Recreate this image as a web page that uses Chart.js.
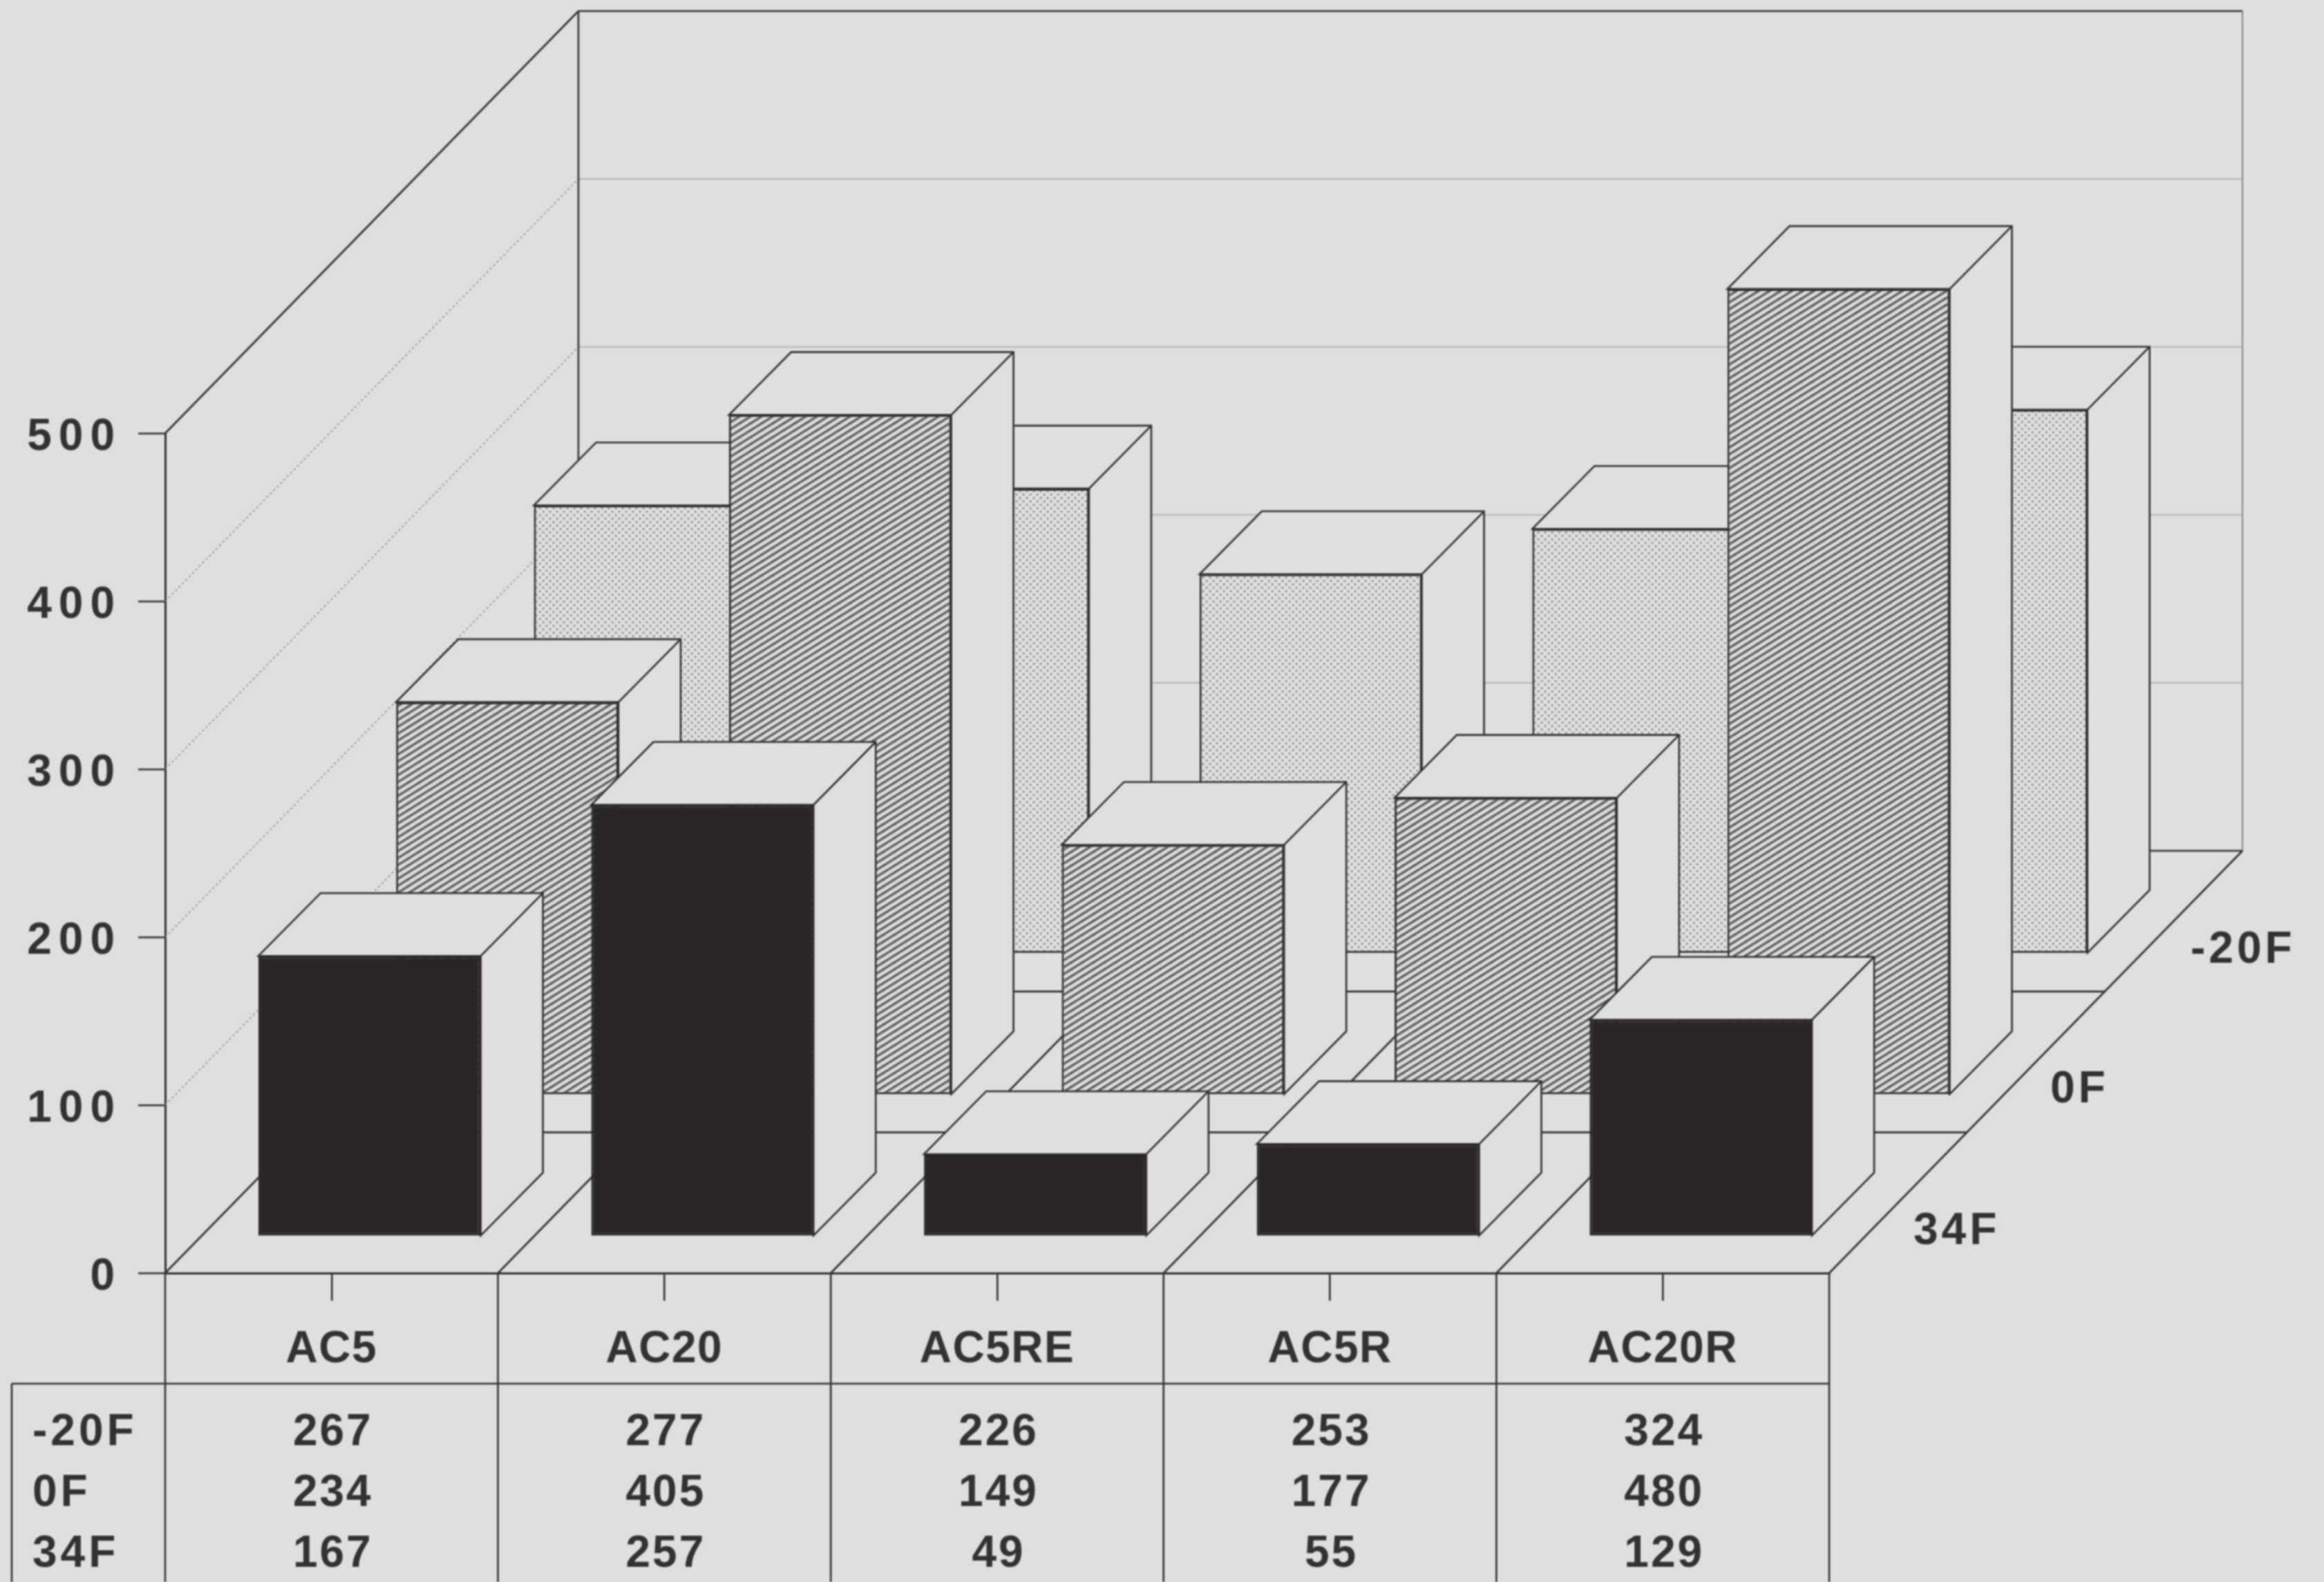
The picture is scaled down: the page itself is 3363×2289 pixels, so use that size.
<!DOCTYPE html>
<html>
<head>
<meta charset="utf-8">
<style>
html,body{margin:0;padding:0;background:#dfdfdf;}
canvas{display:block;filter:blur(0.9px);}
</style>
<script src="https://cdn.jsdelivr.net/npm/chart.js@4"></script>
</head>
<body>
<canvas id="c" width="3363" height="2289" style="width:3363px;height:2289px"></canvas>
<script>
const categories = ['AC5','AC20','AC5RE','AC5R','AC20R'];
const seriesNames = ['-20F','0F','34F'];
const valuesMinus20F = [267,277,226,253,324];
const values0F = [234,405,149,177,480];
const values34F = [167,257,49,55,129];
const yTicks = [0,100,200,300,400,500];

const BG='#dfdfdf', INK='#333132', GRID='#a6a6a6';
const FONT={family:'"Liberation Sans", Arimo, sans-serif',size:64,weight:'bold'};
const FONT_CSS='bold 64px "Liberation Sans", Arimo, sans-serif';
const TRACK_Y='10px', TRACK_X='1.5px', TRACK_DIGITS='3px', TRACK_ROWNAME='5px';
const DEPTH_X=598, DEPTH_Y=611;
const ROW_X=DEPTH_X/3, ROW_Y=DEPTH_Y/3;
const BAR_IN_X=55, BAR_IN_Y=53, BAR_ROW_Y=204.5, BAR_DX=90, BAR_DY=91;

function tile(w,h,draw){const t=document.createElement('canvas');t.width=w;t.height=h;const c=t.getContext('2d');draw(c,w,h);return t;}
const ctxMain=document.getElementById('c').getContext('2d');
const hatch=ctxMain.createPattern(tile(16,10,(c,w,h)=>{
  c.fillStyle='#dcdcdc';c.fillRect(0,0,w,h);
  c.strokeStyle='#505050';c.lineWidth=3;
  for(const [ox,oy] of [[0,0],[-w,0],[w,0],[0,-h],[0,h]]){
    c.beginPath();c.moveTo(ox-w,oy+h+h);c.lineTo(ox+w+w,oy-h);c.stroke();
  }
}),'repeat');
const stipple=ctxMain.createPattern(tile(10,10,(c,w,h)=>{
  c.fillStyle='#dfdfdf';c.fillRect(0,0,w,h);
  c.fillStyle='#949494';
  for(const [x,y] of [[2.5,2.5],[7.5,7.5]]){c.beginPath();c.arc(x,y,1.7,0,Math.PI*2);c.fill();}
}),'repeat');

// row index in depth for each dataset: 0 = front
const rowOf={'-20F':2,'0F':1,'34F':0};

function line(ctx,x1,y1,x2,y2){ctx.beginPath();ctx.moveTo(x1,y1);ctx.lineTo(x2,y2);ctx.stroke();}
function trackLabels(scale,ctx,track){
  if(scale._tracked) return;
  scale._tracked=true;
  const orig=scale.drawLabels;
  scale.drawLabels=function(a){ctx.save();ctx.letterSpacing=track;orig.call(this,a);ctx.restore();};
}

const scene={
  id:'scene',
  beforeDraw(chart){
    trackLabels(chart.scales.x,chart.ctx,TRACK_X);
    trackLabels(chart.scales.y,chart.ctx,TRACK_Y);
  },
  beforeDatasetsDraw(chart){
    const ctx=chart.ctx,x=chart.scales.x,y=chart.scales.y;
    const L=x.left,R=x.right,y0=y.getPixelForValue(0),top=y.getPixelForValue(yTicks[yTicks.length-1]);
    ctx.save();
    // grid on walls
    ctx.lineWidth=1.6;
    for(const v of yTicks.slice(1,-1)){
      const p=y.getPixelForValue(v);
      ctx.strokeStyle=GRID;ctx.setLineDash([]);
      line(ctx,L+DEPTH_X,p-DEPTH_Y,R+DEPTH_X,p-DEPTH_Y);
      ctx.strokeStyle='#8a8a8a';ctx.setLineDash([3,4]);
      line(ctx,L,p,L+DEPTH_X,p-DEPTH_Y);
    }
    ctx.setLineDash([]);
    // frame
    ctx.strokeStyle=INK;ctx.lineWidth=2.6;
    line(ctx,L,top,L+DEPTH_X,top-DEPTH_Y);
    line(ctx,L+DEPTH_X,top-DEPTH_Y,R+DEPTH_X,top-DEPTH_Y);
    line(ctx,L+DEPTH_X,top-DEPTH_Y,L+DEPTH_X,y0-DEPTH_Y);
    ctx.strokeStyle='#7d7d7d';ctx.lineWidth=1.8;
    line(ctx,R+DEPTH_X,top-DEPTH_Y,R+DEPTH_X,y0-DEPTH_Y);
    // floor
    ctx.strokeStyle=INK;ctx.lineWidth=2.6;
    const band=(R-L)/categories.length;
    for(let i=0;i<=categories.length;i++){
      const bx=L+i*band;
      line(ctx,bx,y0,bx+DEPTH_X,y0-DEPTH_Y);
    }
    for(let r=1;r<=3;r++){
      line(ctx,L+r*ROW_X,y0-r*ROW_Y,R+r*ROW_X,y0-r*ROW_Y);
    }
    // data table rules
    const h=chart.height, tableTop=2002, tableLeft=17;
    for(let i=0;i<=categories.length;i++){
      const bx=L+i*band;
      line(ctx,bx,y0,bx,h);
    }
    line(ctx,tableLeft,tableTop,R,tableTop);
    line(ctx,tableLeft,tableTop,tableLeft,h);
    // data table text
    ctx.fillStyle=INK;ctx.font=FONT_CSS;ctx.textBaseline='middle';
    const rows=[valuesMinus20F,values0F,values34F], rowY=[2073,2161,2249];
    rows.forEach((vals,r)=>{
      ctx.textAlign='left';ctx.letterSpacing=TRACK_ROWNAME;
      ctx.fillText(seriesNames[r],47,rowY[r]);
      ctx.textAlign='center';ctx.letterSpacing=TRACK_DIGITS;
      vals.forEach((v,i)=>ctx.fillText(String(v),x.getPixelForValue(i)+2,rowY[r]));
    });
    // depth labels
    ctx.textAlign='left';ctx.letterSpacing=TRACK_ROWNAME;
    const depthLabelPos=[[R+523,1375],[R+320,1577],[R+122,1782]];
    seriesNames.forEach((n,r)=>ctx.fillText(n,depthLabelPos[r][0],depthLabelPos[r][1]));
    ctx.restore();
  },
  beforeDatasetDraw(chart,args){
    const ctx=chart.ctx;
    const r=rowOf[chart.data.datasets[args.index].label];
    ctx.save();
    ctx.translate(BAR_IN_X+r*ROW_X,-BAR_IN_Y-r*BAR_ROW_Y);
    // side and top faces, behind the front face
    ctx.lineWidth=2.6;ctx.strokeStyle=INK;ctx.fillStyle=BG;ctx.lineJoin='miter';
    args.meta.data.forEach(b=>{
      const l=b.x-b.width/2,rt=b.x+b.width/2,t=b.y,bt=b.base;
      ctx.beginPath();
      ctx.moveTo(l,t);ctx.lineTo(l+BAR_DX,t-BAR_DY);ctx.lineTo(rt+BAR_DX,t-BAR_DY);
      ctx.lineTo(rt+BAR_DX,bt-BAR_DY);ctx.lineTo(rt,bt);ctx.lineTo(rt,t);ctx.closePath();
      ctx.fill();ctx.stroke();
      line(ctx,rt,t,rt+BAR_DX,t-BAR_DY);
    });
  },
  afterDatasetDraw(chart){chart.ctx.restore();}
};

const common={borderColor:INK,borderWidth:3,borderSkipped:false,grouped:false,barPercentage:0.668,categoryPercentage:1,clip:false};
new Chart(document.getElementById('c'),{
  type:'bar',
  data:{labels:categories,datasets:[
    {label:seriesNames[0],data:valuesMinus20F,backgroundColor:stipple,order:3,...common},
    {label:seriesNames[1],data:values0F,backgroundColor:hatch,order:2,...common},
    {label:seriesNames[2],data:values34F,backgroundColor:'#2a2526',order:1,...common,borderColor:'#2a2526'}
  ]},
  options:{
    responsive:false,animation:false,
    layout:{padding:{left:0,top:627,right:716,bottom:0}},
    plugins:{legend:{display:false},tooltip:{enabled:false},title:{display:false}},
    scales:{
      x:{
        type:'category',offset:true,
        afterFit(s){s.height=447;},
        border:{color:INK,width:3},
        grid:{offset:false,drawOnChartArea:false,drawTicks:true,tickLength:40,color:INK,lineWidth:2.6},
        ticks:{font:FONT,color:INK,padding:33,maxRotation:0,autoSkip:false}
      },
      y:{
        type:'linear',min:0,max:500,
        afterFit(s){s.width=239;},
        afterBuildTicks(s){s.ticks=yTicks.map(v=>({value:v}));},
        border:{color:INK,width:3},
        grid:{drawOnChartArea:false,drawTicks:true,tickLength:39,color:INK,lineWidth:2.6},
        ticks:{font:FONT,color:INK,padding:24,labelOffset:6}
      }
    }
  },
  plugins:[scene]
});
</script>
</body>
</html>
